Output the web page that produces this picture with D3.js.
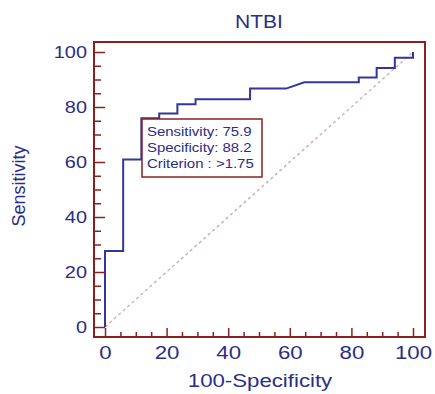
<!DOCTYPE html>
<html lang="en">
<head>
    <meta charset="UTF-8">
    <title>NTBI ROC curve</title>
    <style>
        body { margin: 0; background: #fff; font-family: "Liberation Sans", Arial, sans-serif; }
        svg { display: block; }
    </style>
</head>
<body>
<script src="https://cdn.jsdelivr.net/npm/d3@7"></script>
<script>
    // ROC curve vertices (100-Specificity, Sensitivity)
    const fpr  = [0, 0, 5.9, 5.9, 11.8, 11.8, 17.6, 17.6, 23.5, 23.5, 29.4, 29.4, 47.1, 47.1, 58.8, 64.7, 82.4, 82.4, 88.2, 88.2, 94.1, 94.1, 100, 100];
    const sens = [0, 27.6, 27.6, 60.9, 60.9, 75.9, 75.9, 77.6, 77.6, 81.0, 81.0, 82.8, 82.8, 86.7, 86.7, 89.0, 89.0, 90.7, 90.7, 94.2, 94.2, 97.9, 97.9, 100];
    const majorTicks = [0, 20, 40, 60, 80, 100];
    const minorTicks = d3.range(0, 101, 5).filter(v => v % 20 !== 0);
    const legendLines = ["Sensitivity: 75.9", "Specificity: 88.2", "Criterion : >1.75"];

    const width = 435, height = 394;
    const frame = {left: 94, right: 425, top: 42, bottom: 337};
    const navy = "#2b2d88", curveColor = "#33369c", red = "#8b2020";
    const sx = 1.17; // text looks horizontally stretched in the original

    const svg = d3.select("body").append("svg")
        .attr("width", width)
        .attr("height", height);

    const x = d3.scaleLinear().domain([0, 100]).range([105, 413]);
    const y = d3.scaleLinear().domain([0, 100]).range([327, 52]);

    // diagonal reference line
    svg.append("line")
        .attr("x1", x(0)).attr("y1", y(0))
        .attr("x2", x(100)).attr("y2", y(100))
        .attr("stroke", "#c9b4b4")
        .attr("stroke-width", 1.5)
        .attr("stroke-dasharray", "3,3");

    // ROC curve
    const line = d3.line().x(d => x(d[0])).y(d => y(d[1]));
    svg.append("path")
        .datum(fpr.map((f, i) => [f, sens[i]]))
        .attr("d", line)
        .attr("fill", "none")
        .attr("stroke", curveColor)
        .attr("stroke-width", 2);

    // axes (ticks pointing inward)
    const yAxis = svg.append("g").attr("transform", `translate(${frame.left},0)`)
        .call(d3.axisLeft(y).tickValues(majorTicks).tickSize(-11).tickPadding(6));
    svg.append("g").attr("transform", `translate(${frame.left},0)`)
        .call(d3.axisLeft(y).tickValues(minorTicks).tickSize(-7).tickFormat(""));
    const xAxis = svg.append("g").attr("transform", `translate(0,${frame.bottom})`)
        .call(d3.axisBottom(x).tickValues(majorTicks).tickSize(-9).tickPadding(9));
    svg.append("g").attr("transform", `translate(0,${frame.bottom})`)
        .call(d3.axisBottom(x).tickValues(minorTicks).tickSize(-5).tickFormat(""));

    svg.selectAll(".domain").remove();
    svg.selectAll(".tick line").attr("stroke", red).attr("stroke-width", 1.5);

    yAxis.selectAll("text")
        .attr("font-size", 17)
        .attr("font-family", "Liberation Sans, Arial, sans-serif")
        .attr("fill", navy)
        .attr("x", -6)
        .attr("transform", `scale(${sx},1)`);
    xAxis.selectAll("text")
        .attr("font-size", 19)
        .attr("font-family", "Liberation Sans, Arial, sans-serif")
        .attr("fill", navy)
        .attr("transform", `scale(${sx},1)`);

    // frame
    svg.append("rect")
        .attr("x", frame.left).attr("y", frame.top)
        .attr("width", frame.right - frame.left)
        .attr("height", frame.bottom - frame.top)
        .attr("fill", "none")
        .attr("stroke", red)
        .attr("stroke-width", 2);

    // title and axis titles
    svg.append("text")
        .attr("transform", `translate(259,28) scale(${sx},1)`)
        .attr("text-anchor", "middle")
        .attr("font-size", 18)
        .attr("fill", navy)
        .text("NTBI");

    svg.append("text")
        .attr("transform", `translate(260,387) scale(${sx},1)`)
        .attr("text-anchor", "middle")
        .attr("font-size", 19)
        .attr("fill", navy)
        .text("100-Specificity");

    svg.append("text")
        .attr("transform", "translate(25,186) rotate(-90)")
        .attr("text-anchor", "middle")
        .attr("font-size", 18)
        .attr("fill", navy)
        .text("Sensitivity");

    // legend box
    const legend = svg.append("g");
    legend.append("rect")
        .attr("x", 142).attr("y", 119)
        .attr("width", 120).attr("height", 58)
        .attr("fill", "#fff")
        .attr("stroke", red)
        .attr("stroke-width", 1.5);
    legend.selectAll("text.leg")
        .data(legendLines)
        .enter()
        .append("text")
        .attr("class", "leg")
        .attr("transform", (d, i) => `translate(147,${136 + i * 16}) scale(1.15,1)`)
        .attr("font-size", 13)
        .attr("fill", navy)
        .text(d => d);
</script>
</body>
</html>
